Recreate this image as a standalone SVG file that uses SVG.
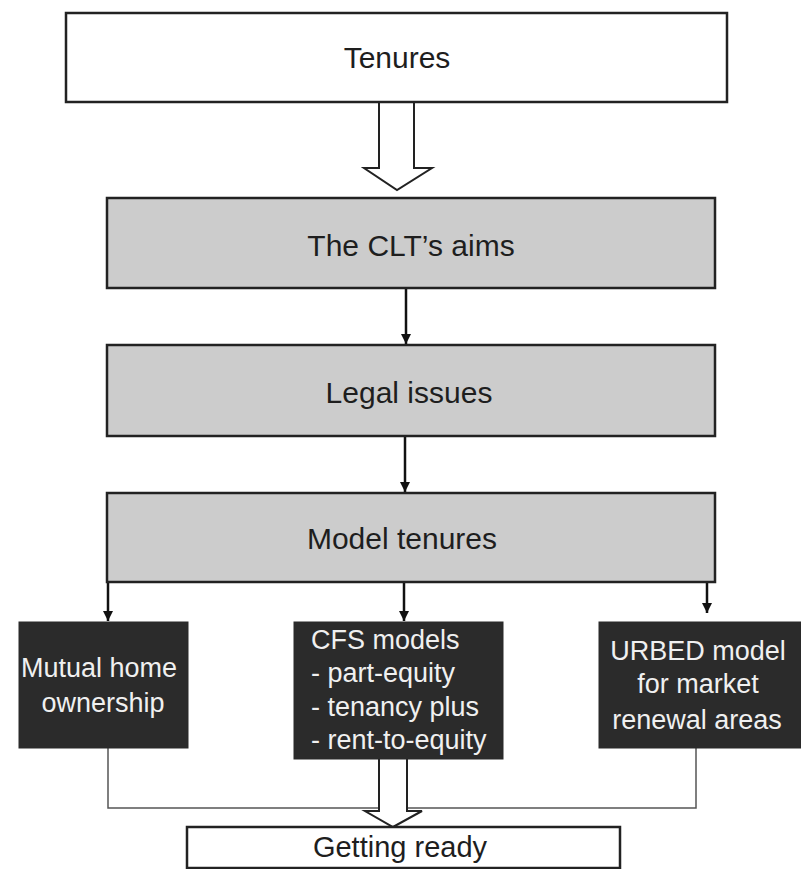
<svg xmlns="http://www.w3.org/2000/svg" width="801" height="869" viewBox="0 0 801 869">
  <style>
    .box { stroke: #222; stroke-width: 2.5; }
    .white { fill: #ffffff; }
    .grey { fill: #cccccc; }
    .dark { fill: #2b2b2b; stroke: #2b2b2b; stroke-width: 1; }
    .lbl { font-family: "Liberation Sans", Arial, sans-serif; font-size: 30px; fill: #1e1e1e; text-anchor: middle; }
    .inv { font-family: "Liberation Sans", Arial, sans-serif; font-size: 27px; fill: #f0f0f0; }
    .mid { text-anchor: middle; }
    .link { stroke: #111; stroke-width: 2.5; fill: none; }
    .thin { stroke: #555; stroke-width: 1.5; fill: none; }
    .block { fill: #ffffff; stroke: #222; stroke-width: 2; stroke-linejoin: miter; }
  </style>
  <defs>
    <marker id="tip" viewBox="0 0 10 10" refX="10" refY="5" markerWidth="4" markerHeight="4" orient="auto" markerUnits="strokeWidth">
      <path d="M0,0 L10,5 L0,10 z" fill="#111"/>
    </marker>
  </defs>

  <rect width="801" height="869" fill="#ffffff"/>

  <g id="connectors">
    <!-- broad outline arrow: Tenures to aims -->
    <path class="block" d="M379,102 L379,168 L364,168 L397,190 L432,168 L414,168 L414,102"/>
    <!-- aims to legal issues -->
    <line class="link" x1="406" y1="288" x2="406" y2="344" marker-end="url(#tip)"/>
    <!-- legal issues to model tenures -->
    <line class="link" x1="405" y1="436" x2="405" y2="492" marker-end="url(#tip)"/>
    <!-- model tenures fan-out -->
    <line class="link" x1="108" y1="582" x2="108" y2="621" marker-end="url(#tip)"/>
    <line class="link" x1="404" y1="582" x2="404" y2="621" marker-end="url(#tip)"/>
    <line class="link" x1="707" y1="582" x2="707" y2="613" marker-end="url(#tip)"/>
    <!-- gathering line under the models -->
    <path class="thin" d="M108,748 L108,808 L696,808 L696,748"/>
    <!-- broad outline arrow: CFS models to getting ready -->
    <path class="block" d="M379,759 L379,811 L365,811 L393,827 L422,811 L407,811 L407,759"/>
  </g>

  <g id="tenures">
    <rect class="box white" x="66" y="13" width="661" height="89"/>
    <text class="lbl" x="397" y="68">Tenures</text>
  </g>

  <g id="aims">
    <rect class="box grey" x="107" y="198" width="608" height="90"/>
    <text class="lbl" x="411" y="256">The CLT’s aims</text>
  </g>

  <g id="legal">
    <rect class="box grey" x="107" y="345" width="608" height="91"/>
    <text class="lbl" x="409" y="403">Legal issues</text>
  </g>

  <g id="model-tenures">
    <rect class="box grey" x="107" y="493" width="608" height="89"/>
    <text class="lbl" x="402" y="549">Model tenures</text>
  </g>

  <g id="mutual">
    <rect class="dark" x="19" y="622" width="169" height="126"/>
    <text class="inv mid" x="99" y="677">Mutual home</text>
    <text class="inv mid" x="103" y="712">ownership</text>
  </g>

  <g id="cfs">
    <rect class="dark" x="294" y="622" width="209" height="137"/>
    <text class="inv" x="311" y="649">CFS models</text>
    <text class="inv" x="311" y="682">- part-equity</text>
    <text class="inv" x="311" y="716">- tenancy plus</text>
    <text class="inv" x="311" y="749">- rent-to-equity</text>
  </g>

  <g id="urbed">
    <rect class="dark" x="599" y="622" width="202" height="126"/>
    <text class="inv mid" x="698" y="660">URBED model</text>
    <text class="inv mid" x="698" y="693">for market</text>
    <text class="inv mid" x="697" y="729">renewal areas</text>
  </g>

  <g id="getting-ready">
    <rect class="box white" x="187" y="827" width="433" height="41"/>
    <text class="lbl" x="400" y="857" style="font-size:29px">Getting ready</text>
  </g>
</svg>
